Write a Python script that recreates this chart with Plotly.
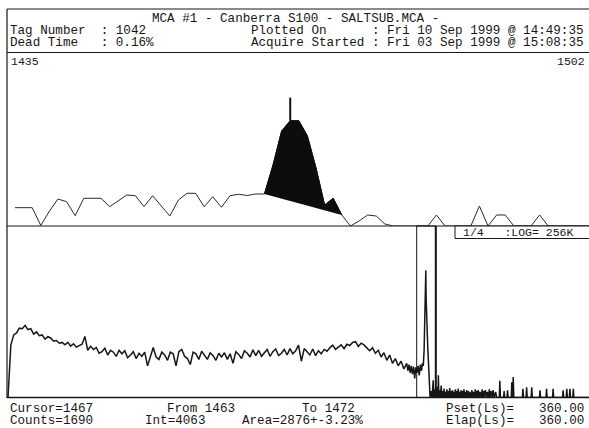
import plotly.graph_objects as go

W, H = 589, 428

# ---------------- data ----------------
top_channels = list(range(1435, 1503))
top_counts = [294, 294, 294, 8, 240, 433, 390, 165, 445, 445,
              445, 310, 409, 498, 486, 310, 486, 324, 160, 417,
              525, 525, 310, 470, 300, 486, 509, 490, 514, 514,
              979, 1525, 1690, 1690, 1445, 931, 337, 445, 177, 0,
              80, 177, 160, 32, 0, 0, 0, 0, 0, 177,
              0, 0, 0, 0, 321, 0, 177, 177, 0, 0,
              0, 177, 0, 0, 0, 0, 0, 0]
roi_drawn = [1464, 1473]          # region filled in the expanded view
roi_from, roi_to = 1463, 1472
cursor_channel = 1467
cursor_counts = 1690
integral = 4063
area = 2876
area_err = "3.23"
pset = "360.00"
elap = "360.00"
tag_number = "1042"
dead_time = "0.16%"

low_ch_a = list(range(0, 1410, 10))
low_counts_a = [1, 45, 95, 110, 155, 150, 190, 140, 150, 100,
                118, 90, 95, 70, 84, 76, 60, 63, 52, 55,
                46, 55, 42, 50, 39, 44, 48, 85, 31, 42,
                33, 38, 25, 28, 36, 22, 31, 27, 20, 31,
                24, 30, 18, 22, 28, 17, 25, 20, 27, 10,
                21, 38, 19, 16, 27, 22, 15, 27, 24, 10,
                28, 33, 20, 17, 11, 27, 24, 16, 29, 21,
                16, 26, 21, 15, 25, 19, 26, 16, 24, 12,
                28, 23, 17, 30, 25, 19, 32, 21, 31, 20,
                26, 33, 20, 28, 34, 21, 25, 33, 22, 35,
                24, 30, 45, 14, 35, 28, 22, 34, 21, 30,
                24, 33, 29, 37, 45, 33, 40, 46, 35, 48,
                44, 55, 58, 41, 52, 46, 37, 30, 37, 25,
                31, 19, 26, 15, 22, 12, 17, 10, 14, 8,
                12]
low_ch_b = [1404, 1408, 1412, 1416, 1420, 1424, 1428, 1432, 1436, 1440,
            1444, 1448, 1452, 1455, 1458, 1461, 1463, 1465, 1466, 1467,
            1468, 1469, 1470, 1472, 1474, 1476, 1478, 1480]
low_counts_b = [7, 11, 6, 10, 5.5, 9.5, 4, 9, 6, 10,
                5, 11, 7, 12, 10, 30, 150, 455, 2000, 10500,
                1500, 600, 272, 100, 35, 15, 5, 2]
tail_ch = [1482, 1486, 1489, 1493, 1495, 1498, 1500, 1503, 1505, 1508,
           1510, 1511, 1513, 1516, 1518, 1521, 1523, 1526, 1528, 1531,
           1533, 1536, 1538, 1541, 1543, 1546, 1548, 1551, 1553, 1556,
           1558, 1561, 1563, 1566, 1568, 1571, 1573, 1576, 1578, 1581,
           1583, 1586, 1588, 1591, 1593, 1596, 1598, 1601, 1603, 1606,
           1608, 1611, 1613, 1616, 1618, 1621, 1625, 1629, 1631, 1634,
           1638, 1641, 1643, 1646, 1648, 1651, 1655, 1658, 1662, 1665,
           1667, 1670, 1672, 1676, 1680, 1683, 1687, 1690, 1692, 1696,
           1700, 1703, 1707, 1712, 1716, 1725, 1727, 1729, 1740, 1742,
           1744, 1752, 1754, 1756, 1767, 1769, 1771, 1772, 1774, 1776,
           1806, 1808, 1810, 1819, 1821, 1823, 1837, 1839, 1841, 1866,
           1868, 1870, 1889, 1891, 1893, 1912, 1914, 1916, 1947, 1949,
           1951, 1960, 1962, 1964, 1971, 1973, 1975, 1983, 1985, 1987,
           2040]
tail_counts = [1, 1.6, 1, 3.5, 1, 1.8, 1, 1.6, 1, 2.2,
               1, 5, 1, 1.7, 1, 2.4, 1, 1.6, 1, 1.9,
               1, 1.5, 1, 1.8, 1, 1.6, 1, 2.0, 1, 1.6,
               1, 1.7, 1, 1.5, 1, 1.8, 1, 1.6, 1, 1.9,
               1, 1.5, 1, 1.7, 1, 1.6, 1, 1.8, 1, 1.5,
               1, 1.7, 1, 1.6, 1, 1.5, 1, 1.7, 1, 1.5,
               1, 1.8, 1, 1.6, 1, 1.7, 1, 1.5, 1, 1.8,
               1, 1.6, 1, 1.7, 1, 1.5, 1, 1.8, 1, 1.6,
               1, 1.7, 1, 1.5, 1, 1, 3.4, 1, 1, 1.6,
               1, 1, 1.7, 1, 1, 3.0, 1, 1, 4.4, 1,
               1, 1.9, 1, 1, 2.1, 1, 1, 2.1, 1, 1,
               1.7, 1, 1, 1.9, 1, 1, 1.9, 1, 1, 1.7,
               1, 1, 1.9, 1, 1, 1.9, 1, 1, 1.9, 1,
               1]

# ---------------- helpers (pixel -> paper) ----------------
def X(px):
    return px / W


def Y(py):
    return 1 - py / H


INK = "#161616"
MONO = "Liberation Mono, DejaVu Sans Mono, monospace"
NB = "\u00a0"

fig = go.Figure()

# expanded view spectrum
fig.add_trace(go.Scatter(x=top_channels, y=top_counts, mode="lines",
                         line=dict(color="#2a2a2a", width=1),
                         xaxis="x", yaxis="y", hoverinfo="skip"))
# ROI fill (closed by straight baseline)
i0 = top_channels.index(roi_drawn[0])
i1 = top_channels.index(roi_drawn[1])
fig.add_trace(go.Scatter(x=top_channels[i0:i1 + 1], y=top_counts[i0:i1 + 1],
                         mode="lines", fill="toself", fillcolor="#0d0d0d",
                         line=dict(color="#0d0d0d", width=1),
                         xaxis="x", yaxis="y", hoverinfo="skip"))
# cursor
cursor_top = 2060
fig.add_trace(go.Scatter(x=[cursor_channel, cursor_channel], y=[cursor_counts, cursor_top],
                         mode="lines", line=dict(color="#111", width=2),
                         xaxis="x", yaxis="y", hoverinfo="skip"))

# full spectrum (log)
low_x = low_ch_a + low_ch_b + tail_ch
low_y = low_counts_a + low_counts_b + tail_counts
fig.add_trace(go.Scatter(x=low_x, y=low_y, mode="lines",
                         line=dict(color=INK, width=1.5),
                         xaxis="x2", yaxis="y2", hoverinfo="skip"))

ax = dict(visible=False, showgrid=False, zeroline=False, fixedrange=True)
fig.update_layout(
    width=W, height=H, autosize=False,
    margin=dict(l=0, r=0, t=0, b=0),
    paper_bgcolor="white", plot_bgcolor="white",
    showlegend=False,
    xaxis=dict(ax, domain=[X(7), 1.0], range=[1434.07, 1501.74], anchor="y"),
    yaxis=dict(ax, domain=[Y(226), Y(52)], range=[0, 2793], anchor="x"),
    xaxis2=dict(ax, domain=[X(7), 1.0], range=[-3.5, 2040], anchor="y2"),
    yaxis2=dict(ax, domain=[Y(397.5), Y(226)], type="log", range=[0, 5.418], anchor="x2"),
)

shapes = []
def hline(py, x0=7, x1=589, w=1):
    shapes.append(dict(type="line", xref="paper", yref="paper",
                       x0=X(x0), x1=X(x1), y0=Y(py), y1=Y(py),
                       line=dict(color=INK, width=w)))

hline(9)
hline(52.5)
hline(226)
hline(397.5, w=1.5)
shapes.append(dict(type="line", xref="paper", yref="paper",
                   x0=X(7), x1=X(7), y0=Y(9), y1=Y(398),
                   line=dict(color=INK, width=1.2)))
# expanded-region box in lower panel
shapes.append(dict(type="rect", xref="x2", yref="paper",
                   x0=top_channels[0], x1=top_channels[-1], y0=Y(397.5), y1=Y(226),
                   line=dict(color=INK, width=1)))
shapes.append(dict(type="line", xref="x2", yref="paper",
                   x0=top_channels[-1], x1=top_channels[-1], y0=Y(397.5), y1=Y(226),
                   line=dict(color=INK, width=2)))
# scale label box
shapes.append(dict(type="rect", xref="paper", yref="paper",
                   x0=X(455), x1=X(600), y0=Y(238.5), y1=Y(226),
                   fillcolor="white", line=dict(color=INK, width=1)))
fig.update_layout(shapes=shapes)

ann = []
def text(s, px, py, anchor="left", size=12.6):
    ann.append(dict(text=s.replace(" ", NB), x=X(px), y=Y(py), xref="paper", yref="paper",
                    xanchor=anchor, yanchor="middle", showarrow=False,
                    font=dict(family=MONO, size=size, color=INK), borderpad=0))

text("MCA #1 - Canberra S100 - SALTSUB.MCA -", 151, 19)
text("Tag Number  : " + tag_number, 9, 31)
text("Dead Time   : " + dead_time, 9, 43)
text("Plotted On      : Fri 10 Sep 1999 @ 14:49:35", 250, 31)
text("Acquire Started : Fri 03 Sep 1999 @ 15:08:35", 250, 43)
text(str(top_channels[0]), 10, 62, size=11.5)
text(str(top_channels[-1]), 586, 62, anchor="right", size=11.5)
text("1/4   :LOG= 256K", 462, 232.5, size=11.5)

text("Cursor=%d" % cursor_channel, 9, 408.5)
text("From %d" % roi_from, 166, 408.5)
text("To %d" % roi_to, 301, 408.5)
text("Pset(Ls)=", 445, 408.5)
text(pset, 585, 408.5, anchor="right")
text("Counts=%d" % cursor_counts, 9, 420.5)
text("Int=%d" % integral, 144, 420.5)
text("Area=%d+-%s%%" % (area, area_err), 241, 420.5)
text("Elap(Ls)=", 445, 420.5)
text(elap, 585, 420.5, anchor="right")
fig.update_layout(annotations=ann)

fig.write_html("out.html", config={"displayModeBar": False})
